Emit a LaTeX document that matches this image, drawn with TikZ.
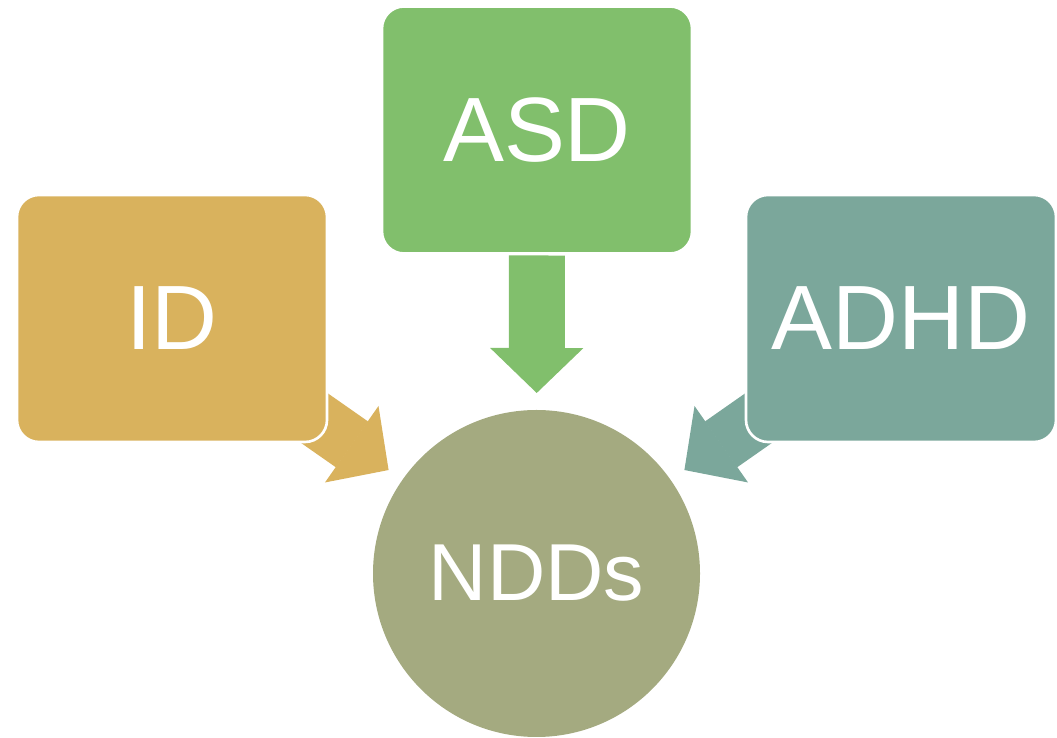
\documentclass[tikz,border=0pt]{standalone}
\usepackage{fontspec}
\setmainfont{Liberation Sans}
\usetikzlibrary{arrows.meta,backgrounds}
\definecolor{idfill}{RGB}{217,178,93}
\definecolor{asdfill}{RGB}{129,191,108}
\definecolor{adhdfill}{RGB}{123,167,155}
\definecolor{nddfill}{RGB}{164,170,128}

\begin{document}
\begin{tikzpicture}[
    box/.style={rectangle, rounded corners=0.44cm, draw=white, line width=1.5pt,
        minimum width=6.2cm, minimum height=4.94cm, text=white,
        font=\fontsize{52}{60}\selectfont},
    hub/.style={circle, minimum size=6.54cm, outer sep=0pt, text=white,
        font=\fontsize{46}{54}\selectfont},
    feed/.style={line width=1.12cm,
        -{Triangle[length=0.9cm, width=1.86cm, line width=1pt]},
        shorten <=2.51cm, shorten >=0.34cm}
]
    \useasboundingbox (0,0) rectangle (21.14,14.76);
    \node[box, fill=idfill] (id) at (3.44,8.39) {ID};
    \node[box, fill=asdfill] (asd) at (10.74,12.16) {ASD};
    \node[box, fill=adhdfill] (adhd) at (18.02,8.39) {ADHD};
    \node[hub, fill=nddfill] (ndds) at (10.73,3.29) {NDDs};
    \begin{pgfonlayer}{background}
        \draw[feed, idfill] (id.center) -- (ndds);
        \draw[feed, asdfill] (asd.center) -- (ndds);
        \draw[feed, adhdfill] (adhd.center) -- (ndds);
    \end{pgfonlayer}
\end{tikzpicture}
\end{document}
